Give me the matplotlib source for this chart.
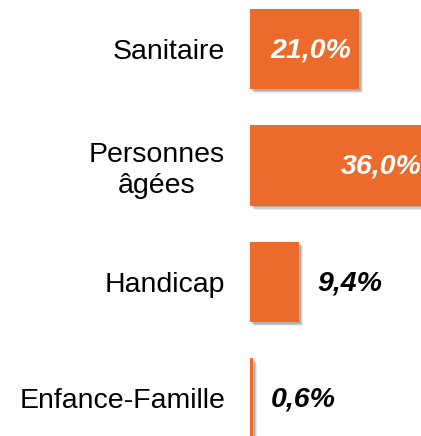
import matplotlib
matplotlib.use("Agg")
import matplotlib.pyplot as plt
import matplotlib.patheffects as pe

categories = ["Sanitaire", "Personnes\nâgées", "Handicap", "Enfance-Famille"]
values = [21.0, 36.0, 9.4, 0.6]
value_labels = ["21,0%", "36,0%", "9,4%", "0,6%"]

BAR_COLOR = "#EA6B2C"
FONT = "Liberation Sans"

fig = plt.figure(figsize=(4.21, 4.36), dpi=100)
ax = fig.add_axes([250 / 421, 0, 171 / 421, 1])

ypos = list(range(len(categories)))
shadow = [
    pe.SimplePatchShadow(offset=(3.0, -3.0), shadow_rgbFace="#000000", alpha=0.08),
    pe.SimplePatchShadow(offset=(2.2, -2.2), shadow_rgbFace="#000000", alpha=0.12),
    pe.SimplePatchShadow(offset=(1.4, -1.4), shadow_rgbFace="#000000", alpha=0.15),
    pe.Normal(),
]
bars = ax.barh(ypos, values, height=0.687, color=BAR_COLOR, edgecolor="none")
for b in bars:
    b.set_path_effects(shadow)

xmax = 171 / 5.2
ax.set_xlim(0, xmax)
ax.set_ylim(3.322, -0.4206)

for i, (v, lab) in enumerate(zip(values, value_labels)):
    if v > 15:
        off = -6 if v <= xmax else -11
        ax.annotate(lab, xy=(v, i), xytext=(off, -1), textcoords="offset points",
                    ha="right", va="center", color="white", fontsize=20.5,
                    fontweight="bold", fontstyle="italic", family=FONT,
                    annotation_clip=False, clip_on=True)
    else:
        ax.annotate(lab, xy=(v, i), xytext=(13, -1), textcoords="offset points",
                    ha="left", va="center", color="black", fontsize=20.5,
                    fontweight="bold", fontstyle="italic", family=FONT)

ax.set_yticks(ypos)
ax.set_yticklabels(categories, fontsize=20.5, family=FONT, linespacing=1.25)
for t in ax.get_yticklabels():
    t.set_horizontalalignment("right")
    t.set_multialignment("center")
ax.tick_params(axis="y", length=0, pad=18)
ax.set_xticks([])
for s in ax.spines.values():
    s.set_visible(False)

fig.savefig("out.png", dpi=100)
